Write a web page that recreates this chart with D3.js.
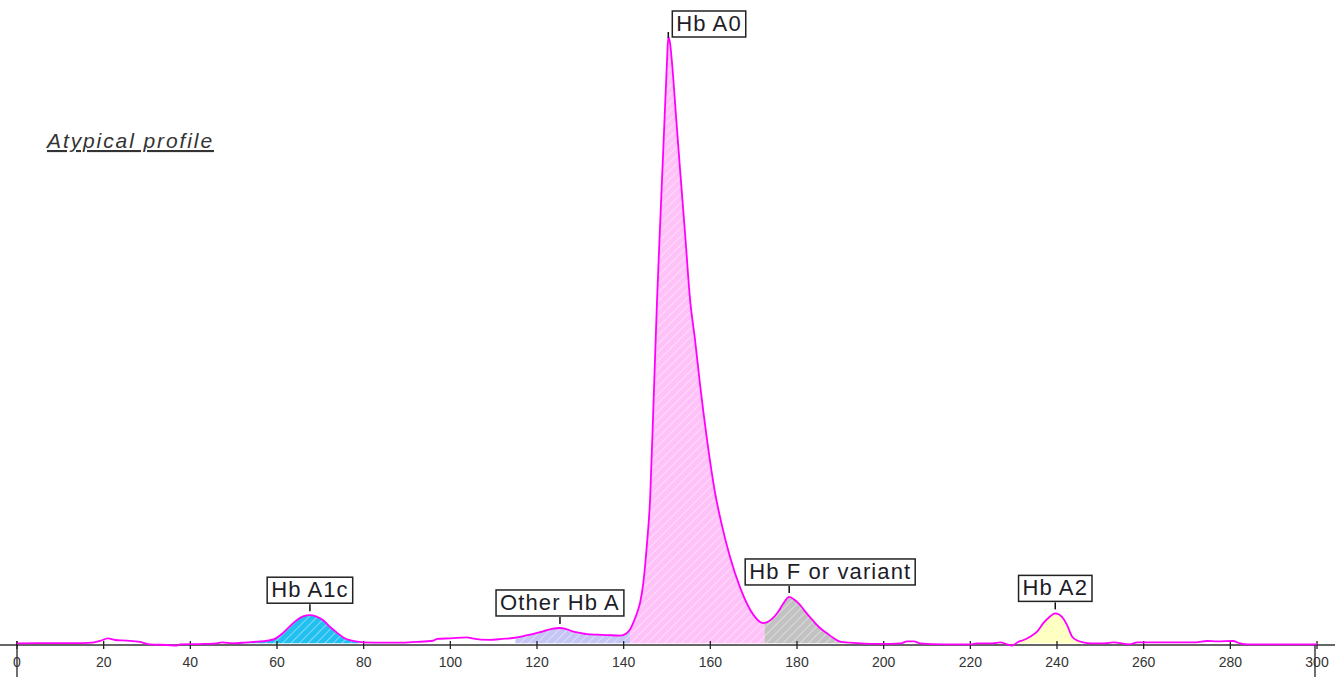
<!DOCTYPE html>
<html>
<head>
<meta charset="utf-8">
<script src="https://cdn.jsdelivr.net/npm/d3@7"></script>
<style>
  body { margin: 0; background: #fff; }
  svg { display: block; }
  text { font-family: "Liberation Sans", Arial, sans-serif; }
</style>
</head>
<body>
<svg id="chart" width="1340" height="678"></svg>
<script>
// retention time (s) and detector signal (% of Hb A0 apex)
var retTime = [0, 5, 10, 15, 17.5, 19.2, 21, 22.6, 25.3, 28.4, 30.7, 34.6, 36.9, 37.6, 42.2, 46.1, 47.3, 49.8,
    53, 55.5, 57.7, 59.5, 61.4, 63, 64.6, 66, 67.6, 69, 70.6, 72.2, 73.9, 75.4, 76.8, 78.5, 80, 84, 88.4,
    92, 96, 97, 100, 103.8, 105, 109, 112, 114.5, 116.8, 118.4, 120.7, 122.5, 123.7, 125.3, 126.6, 128,
    129.9, 131.5, 134, 136.2, 139.2, 140.6, 141.5, 142.3, 143.1, 143.8, 144.5, 145.3, 146.1, 146.9, 147.7,
    148.5, 149.3, 150, 150.3, 150.7, 151.2, 152.1, 153, 154.2, 155.3, 156.5, 157.6, 159.2, 161.1, 162.7,
    164.5, 166.9, 169.9, 172.2, 173.5, 175.5, 177, 178.2, 179.5, 180.7, 182, 183.6, 185, 186.8, 188.5,
    190, 193.8, 197, 201.5, 204, 205.4, 207, 208.4, 213.7, 220, 221.5, 225.2, 226.9, 228.5, 229.6, 231,
    232.3, 233.8, 235.4, 236.8, 238.4, 239.6, 241.2, 242.3, 243.5, 244.8, 246, 248, 251, 253, 256.8, 258.5,
    265, 272, 274.6, 277, 280.6, 282.2, 284, 300];
var absorb = [0.28, 0.3, 0.3, 0.32, 0.4, 0.66, 1.1, 0.82, 0.71, 0.5, 0.1, 0, -0.1, 0.1, 0.16, 0.28, 0.44, 0.28,
    0.44, 0.55, 0.7, 1.0, 2.0, 3.1, 4.1, 4.7, 4.9, 4.7, 4.1, 3.0, 2.0, 1.2, 0.8, 0.55, 0.44, 0.4, 0.38,
    0.5, 0.7, 1.0, 1.1, 1.27, 1.1, 0.85, 1.0, 1.15, 1.45, 1.7, 2.1, 2.5, 2.7, 2.8, 2.65, 2.3,
    2.0, 1.8, 1.7, 1.64, 1.55, 1.9, 2.6, 3.8, 5.3, 7, 10, 16, 24, 40, 56.7,
    70.6, 84.2, 96, 100, 99, 95.4, 86.8, 78.3, 67.4, 57, 50, 43, 34, 25, 19.6,
    14.6, 9.4, 5.0, 3.6, 3.9, 5.3, 7.0, 7.9, 7.4, 6.6, 5.4, 4.1, 3.0, 2.0, 1.1,
    0.55, 0.3, 0.2, 0.2, 0.28, 0.6, 0.6, 0.28, 0.1, 0.1, 0.28, 0.28, 0.44, 0.1, -0.1, 0.5,
    0.82, 1.37, 2.2, 3.56, 4.7, 5.2, 4.6, 3.3, 1.37, 0.7, 0.44, 0.28, 0.28, 0.44, 0.1, 0.44,
    0.44, 0.44, 0.66, 0.6, 0.66, 0.28, 0.1, 0.1];

var peakNames = ["Hb A1c", "Other Hb A", "Hb A0", "Hb F or variant", "Hb A2"];
var peakFrom = [49, 115, 141.5, 172.5, 231];
var peakTo = [79, 141.5, 172.5, 190.5, 246];
var peakFill = ["#22c0f0", "#c6c6f6", "#ffc2f8", "#c2c2c2", "#ffffbe"];

var xTicks = [0, 20, 40, 60, 80, 100, 120, 140, 160, 180, 200, 220, 240, 260, 280, 300];

var trace = retTime.map(function(t, i) { return {t: t, v: absorb[i]}; });

var svg = d3.select("#chart");
var x = d3.scaleLinear().domain([0, 300]).range([17, 1317]);
var y = d3.scaleLinear().domain([0, 100]).range([645, 37]);
var floorV = 0.3;

// signal at time t, straight between read points
var bis = d3.bisector(function(d) { return d.t; }).left;
function signalAt(t) {
    var i = Math.max(1, Math.min(trace.length - 1, bis(trace, t)));
    var a = trace[i - 1], b = trace[i];
    return a.v + (b.v - a.v) * (t - a.t) / (b.t - a.t);
}

var defs = svg.append("defs");

// peak fills, hatched, clipped to each integration window
peakNames.forEach(function(name, i) {
    defs.append("clipPath").attr("id", "clip" + i)
        .append("rect")
        .attr("x", x(peakFrom[i])).attr("y", 0)
        .attr("width", x(peakTo[i]) - x(peakFrom[i])).attr("height", 678);

    var pat = defs.append("pattern").attr("id", "hatch" + i)
        .attr("patternUnits", "userSpaceOnUse")
        .attr("width", 6).attr("height", 6)
        .attr("patternTransform", "rotate(45)");
    pat.append("rect").attr("width", 6).attr("height", 6).attr("fill", peakFill[i]);
    pat.append("line").attr("x1", 0).attr("y1", 0).attr("x2", 0).attr("y2", 6)
        .attr("stroke", "#fff").attr("stroke-opacity", 0.7).attr("stroke-width", 1.2);
});

var area = d3.area()
    .curve(d3.curveMonotoneX)
    .x(function(d) { return x(d.t); })
    .y0(y(floorV))
    .y1(function(d) { return y(Math.max(d.v, floorV)); });

svg.append("g").selectAll("path")
    .data(peakNames)
    .enter().append("path")
    .attr("clip-path", function(d, i) { return "url(#clip" + i + ")"; })
    .attr("fill", function(d, i) { return "url(#hatch" + i + ")"; })
    .attr("d", area(trace));

// x axis
var axis = svg.append("g").attr("class", "x_time");
axis.append("line")
    .attr("x1", 0).attr("x2", 1335).attr("y1", y(0)).attr("y2", y(0))
    .attr("stroke", "#333").attr("stroke-width", 1.5);
axis.selectAll(".tick").data(xTicks).enter().append("line")
    .attr("x1", function(d) { return x(d); }).attr("x2", function(d) { return x(d); })
    .attr("y1", y(0) - 4).attr("y2", y(0) + 4)
    .attr("stroke", "#222").attr("stroke-width", 1.3);
axis.selectAll(".edge").data([0, 300]).enter().append("line")
    .attr("x1", function(d, i) { return x(d) - i * 2; }).attr("x2", function(d, i) { return x(d) - i * 2; })
    .attr("y1", function(d, i) { return i ? y(0) : y(0) - 4; }).attr("y2", 677)
    .attr("stroke", "#222").attr("stroke-width", 1.3);
axis.selectAll("text").data(xTicks).enter().append("text")
    .attr("x", function(d) { return x(d); })
    .attr("y", y(0) + 22)
    .attr("text-anchor", "middle")
    .attr("font-size", 14)
    .attr("fill", "#333")
    .text(function(d) { return d; });

// trace
var line = d3.line()
    .curve(d3.curveMonotoneX)
    .x(function(d) { return x(d.t); })
    .y(function(d) { return y(d.v); });

svg.append("path")
    .attr("d", line(trace))
    .attr("fill", "none")
    .attr("stroke", "#ff00ff")
    .attr("stroke-width", 1.8)
    .attr("stroke-linejoin", "round");

// peak labels
var labels = svg.append("g");
peakNames.forEach(function(name, i) {
    var inWin = trace.filter(function(d) { return d.t >= peakFrom[i] && d.t <= peakTo[i]; });
    var apex = inWin.reduce(function(a, b) { return b.v > a.v ? b : a; });
    var px = x(apex.t), py = y(apex.v);

    var g = labels.append("g");
    var txt = g.append("text")
        .attr("font-size", 22)
        .attr("letter-spacing", "1.1px")
        .attr("fill", "#1c1c28")
        .text(name);
    var w = txt.node().getComputedTextLength() + 8, h = 26;
    var bx, by;
    if (py - 10 - h < 10) {
        // no room above: put box to the right of the apex
        bx = px + 4; by = py - h;
        g.append("line").attr("x1", px).attr("x2", px).attr("y1", py + 1).attr("y2", py - 5)
            .attr("stroke", "#111").attr("stroke-width", 1.5);
    } else {
        bx = px - w / 2; by = py - 12 - h;
        // slide right while the box would sit on the trace
        var hits = function() {
            for (var sx = bx - 4; sx <= bx + w + 4; sx++) {
                if (y(signalAt(x.invert(sx))) < by + h + 4) return true;
            }
            return false;
        };
        while (hits() && bx < px) bx += 1;
        g.append("line").attr("x1", px).attr("x2", px).attr("y1", py - 4).attr("y2", py - 11)
            .attr("stroke", "#111").attr("stroke-width", 1.5);
    }
    g.insert("rect", "text")
        .attr("x", bx).attr("y", by).attr("width", w).attr("height", h)
        .attr("fill", "#fff").attr("stroke", "#222").attr("stroke-width", 1.5);
    txt.attr("x", bx + 4).attr("y", by + h - 6);
});

svg.append("text")
    .attr("x", 47).attr("y", 148)
    .attr("font-size", 21)
    .attr("font-style", "italic")
    .attr("letter-spacing", "1.9px")
    .attr("text-decoration", "underline")
    .attr("fill", "#333")
    .text("Atypical profile");
</script>
</body>
</html>
